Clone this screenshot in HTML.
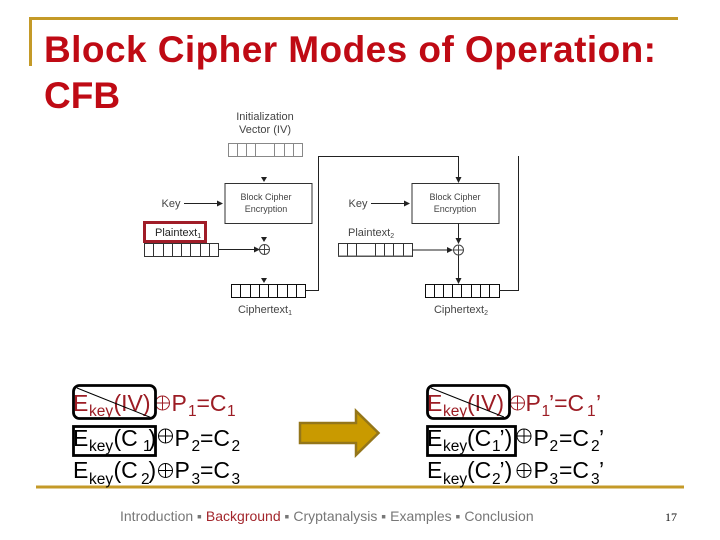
<!DOCTYPE html>
<html><head><meta charset="utf-8"><style>
html,body{margin:0;padding:0;background:#fff;width:720px;height:540px;overflow:hidden}
svg{display:block}
.t{font-family:"Liberation Sans",sans-serif}
.eq{font-size:23px}
.sub{font-size:15.500px}
</style></head><body>
<svg width="720" height="540" viewBox="0 0 720 540" class="t">
<defs><filter id="b" x="-5%" y="-5%" width="110%" height="110%"><feGaussianBlur stdDeviation="0.3"/></filter></defs>
<rect width="720" height="540" fill="#fff"/>
<path d="M678 18.500H30.500V66" fill="none" stroke="#c49a28" stroke-width="3"/>
<rect x="36" y="485.500" width="648" height="3" fill="#c49a28"/>
<text x="44" y="62" font-size="37" font-weight="bold" fill="#bf0a14" textLength="612">Block Cipher Modes of Operation:</text>
<text x="44" y="108" font-size="37" font-weight="bold" fill="#bf0a14">CFB</text>

<g font-size="11" fill="#444" filter="url(#b)">
<text x="265" y="120" text-anchor="middle">Initialization</text>
<text x="265" y="133" text-anchor="middle">Vector (IV)</text>
<text x="171" y="207" text-anchor="middle">Key</text>
<text x="155" y="236" fill="#222">Plaintext<tspan font-size="7" dy="2">1</tspan></text>
<text x="265" y="313" text-anchor="middle">Ciphertext<tspan font-size="7" dy="2">1</tspan></text>
<text x="358" y="207" text-anchor="middle">Key</text>
<text x="348" y="236">Plaintext<tspan font-size="7" dy="2">2</tspan></text>
<text x="461" y="313" text-anchor="middle">Ciphertext<tspan font-size="7" dy="2">2</tspan></text>
<g font-size="9">
<text x="266" y="200" text-anchor="middle">Block Cipher</text>
<text x="266" y="212" text-anchor="middle">Encryption</text>
<text x="455" y="200" text-anchor="middle">Block Cipher</text>
<text x="455" y="212" text-anchor="middle">Encryption</text>
</g>
</g>

<g fill="none" stroke="#555" stroke-width="1" filter="url(#b)">
<path d="M228.500 143.500h74v13h-74zM237.500 143.500v13M246.500 143.500v13M255.500 143.500v13M274.500 143.500v13M284.500 143.500v13M293.500 143.500v13" stroke="#888"/>
<rect x="225" y="183.500" width="87" height="40" stroke="#333"/>
<rect x="412" y="183.500" width="87" height="40" stroke="#333"/>
<path d="M144.500 243.500h74v13h-74zM153.500 243.500v13M163.500 243.500v13M172.500 243.500v13M181.500 243.500v13M190.500 243.500v13M200.500 243.500v13M209.500 243.500v13" stroke="#333"/>
<path d="M231.500 284.500h74v13h-74zM240.500 284.500v13M250.500 284.500v13M259.500 284.500v13M268.500 284.500v13M277.500 284.500v13M287.500 284.500v13M296.500 284.500v13" stroke="#111"/>
<path d="M338.500 243.500h74v13h-74zM347.500 243.500v13M356.500 243.500v13M375.500 243.500v13M384.500 243.500v13M393.500 243.500v13M403.500 243.500v13" stroke="#333"/>
<path d="M425.500 284.500h74v13h-74zM434.500 284.500v13M443.500 284.500v13M452.500 284.500v13M461.500 284.500v13M471.500 284.500v13M480.500 284.500v13M489.500 284.500v13" stroke="#111"/>
<path d="M184 203.500h36M219 249.500h40M306 290.500h12.500V156.500H458.500V180M371 203.500h36M412.500 250h40M458.500 223.500v20M458.500 255v25M499 290.500h19.500V156" stroke="#222"/>
<circle cx="264.500" cy="249.500" r="5" stroke="#444"/><path d="M259.500 249.500h10M264.500 244.500v10" stroke="#444"/>
<circle cx="458.500" cy="250" r="5" stroke="#444"/><path d="M453.500 250h10M458.500 245v10" stroke="#444"/>
</g>
<path d="M338 255.500h74v1.500h-74z" fill="#555"/>
<g fill="#222">
<path d="M261 177h6l-3 5zM261 237h6l-3 5zM261 278h6l-3 5zM455.500 177h6l-3 6zM455.500 238h6l-3 6zM455.500 278h6l-3 6zM217 200.500l6 3-6 3zM254 246.500l6 3-6 3zM404 200.500l6 3-6 3zM447 247l6 3-6 3z"/>
</g>
<rect x="144.500" y="222.500" width="61" height="19" fill="none" stroke="#a01c28" stroke-width="3"/>

<!-- equations -->
<g class="eq" fill="#9c1c24">
<text x="73" y="411">E</text><text x="89" y="416" class="sub">key</text><text x="113.500" y="411">(IV)</text>
<text x="171.500" y="411">P</text><text x="188" y="416" class="sub">1</text><text x="196.500" y="411">=C</text><text x="227" y="416" class="sub">1</text>
</g>
<g class="eq" fill="#000">
<text x="73" y="446">E</text><text x="89" y="451" class="sub">key</text><text x="113.500" y="446">(C</text><text x="143" y="451" class="sub">1</text><text x="148.500" y="446">)</text>
<text x="174.500" y="446">P</text><text x="191.500" y="451" class="sub">2</text><text x="200" y="446">=C</text><text x="231.500" y="451" class="sub">2</text>
<text x="73" y="478">E</text><text x="89" y="484" class="sub">key</text><text x="113.500" y="478">(C</text><text x="141" y="484" class="sub">2</text><text x="148.500" y="478">)</text>
<text x="174.500" y="478">P</text><text x="191.500" y="484" class="sub">3</text><text x="200" y="478">=C</text><text x="231.500" y="484" class="sub">3</text>
</g>
<g class="eq" fill="#9c1c24">
<text x="427" y="411">E</text><text x="443" y="416" class="sub">key</text><text x="467" y="411">(IV)</text>
<text x="525.500" y="411">P</text><text x="541.500" y="416" class="sub">1</text><text x="549" y="411">’=C</text><text x="587" y="416" class="sub">1</text><text x="596" y="411">’</text>
</g>
<g class="eq" fill="#000">
<text x="427" y="446">E</text><text x="443" y="451" class="sub">key</text><text x="467" y="446">(C</text><text x="492" y="451" class="sub">1</text><text x="499.500" y="446">’)</text>
<text x="533.500" y="446">P</text><text x="549.500" y="451" class="sub">2</text><text x="559" y="446">=C</text><text x="591" y="451" class="sub">2</text><text x="599" y="446">’</text>
<text x="427" y="478">E</text><text x="443" y="484" class="sub">key</text><text x="467" y="478">(C</text><text x="492" y="484" class="sub">2</text><text x="499.500" y="478">’)</text>
<text x="533.500" y="478">P</text><text x="549.500" y="484" class="sub">3</text><text x="559" y="478">=C</text><text x="591" y="484" class="sub">3</text><text x="599" y="478">’</text>
</g>
<g fill="none" stroke-width="1">
<g stroke="#9c1c24"><circle cx="162.500" cy="403" r="7"/><path d="M155.500 403h14M162.500 396v14"/><circle cx="517.500" cy="403" r="7"/><path d="M510.500 403h14M517.500 396v14"/></g>
<g stroke="#000"><circle cx="165.500" cy="436" r="7"/><path d="M158.500 436h14M165.500 429v14"/><circle cx="165.500" cy="470.500" r="7"/><path d="M158.500 470.500h14M165.500 463.500v14"/>
<circle cx="524" cy="436" r="7"/><path d="M517 436h14M524 429v14"/><circle cx="524" cy="470.500" r="7"/><path d="M517 470.500h14M524 463.500v14"/></g>
</g>
<!-- overlays -->
<g fill="none" stroke="#000" stroke-width="2.800">
<rect x="73.500" y="385.500" width="82" height="33" rx="6"/>
<rect x="73.500" y="426.500" width="82" height="29"/>
<rect x="427.500" y="385.500" width="82" height="33" rx="6"/>
<rect x="427.500" y="426.500" width="88" height="29"/>
</g>
<path d="M77 388L152 418M431 388L504 417" stroke="#000" stroke-width="1" fill="none"/>
<!-- arrow -->
<path d="M300 423h56v-12l22.500 22-22.500 22v-12h-56z" fill="#c99a00" stroke="#94761a" stroke-width="2.500"/>
<!-- footer -->
<text x="120" y="521" font-size="14" fill="#777">Introduction ▪ <tspan fill="#a3262c">Background</tspan> ▪ Cryptanalysis ▪ Examples ▪ Conclusion</text>
<text x="671" y="521" font-size="12" font-family="Liberation Serif,serif" fill="#111" text-anchor="middle">17</text>
</svg>
</body></html>
